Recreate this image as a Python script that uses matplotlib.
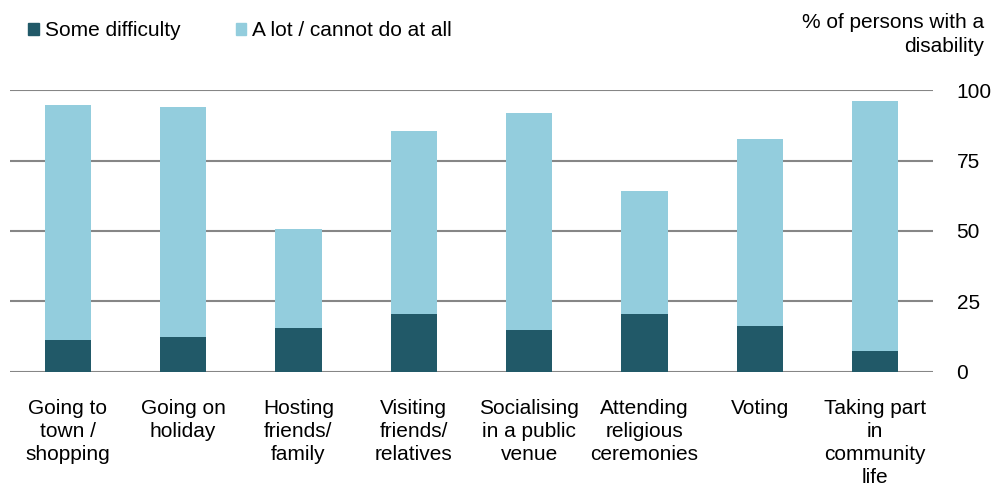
import matplotlib
matplotlib.use("Agg")
from matplotlib import pyplot as plt
from matplotlib.patches import Patch

plt.rcParams['font.family'] = ['Liberation Sans', 'DejaVu Sans']

categories = ["Going to\ntown /\nshopping", "Going on\nholiday", "Hosting\nfriends/\nfamily",
              "Visiting\nfriends/\nrelatives", "Socialising\nin a public\nvenue",
              "Attending\nreligious\nceremonies", "Voting", "Taking part\nin\ncommunity\nlife"]
some_difficulty = [11.3, 12.4, 15.5, 20.6, 14.9, 20.6, 16.2, 7.4]
a_lot = [83.5, 81.8, 35.3, 65.0, 77.2, 43.6, 66.5, 88.8]

dark = "#215968"
light = "#93CDDD"
grid_col = "#868686"
fs = 15

fig = plt.figure(figsize=(9.92, 4.88), dpi=100)
ax = fig.add_axes([10 / 992, 1 - 371.7 / 488, 923 / 992, 281.4 / 488])

x = range(len(categories))
ax.bar(x, some_difficulty, width=0.4, color=dark, zorder=3)
ax.bar(x, a_lot, width=0.4, bottom=some_difficulty, color=light, zorder=3)

ax.set_xlim(-0.5, len(categories) - 0.5)
ax.set_ylim(0, 100)
ax.set_yticks([0, 25, 50, 75, 100])
ax.yaxis.tick_right()
ax.grid(axis="y", color=grid_col, linewidth=1.5, zorder=0)
for s in ax.spines.values():
    s.set_visible(False)

ax.set_xticks(list(x))
ax.set_xticklabels(categories, fontsize=fs, linespacing=1.25)
ax.tick_params(axis="x", length=0, pad=20)
ax.tick_params(axis="y", length=0, pad=17, labelsize=fs)
for lbl in ax.get_yticklabels():
    lbl.set_horizontalalignment("left")

fig.text(984 / 992, 1 - 13 / 488, "% of persons with a\ndisability", ha="right", va="top",
         fontsize=fs, linespacing=1.3)

handles = [Patch(color=dark, label="Some difficulty"),
           Patch(color=light, label="A lot / cannot do at all")]
fig.legend(handles=handles, loc="center left", bbox_to_anchor=(28 / 992, 1 - 31 / 488),
           ncol=2, frameon=False, fontsize=fs, handlelength=0.52, handleheight=0.52,
           handletextpad=0.28, columnspacing=2.65, borderaxespad=0, borderpad=0)

fig.savefig("out.png", dpi=100)
